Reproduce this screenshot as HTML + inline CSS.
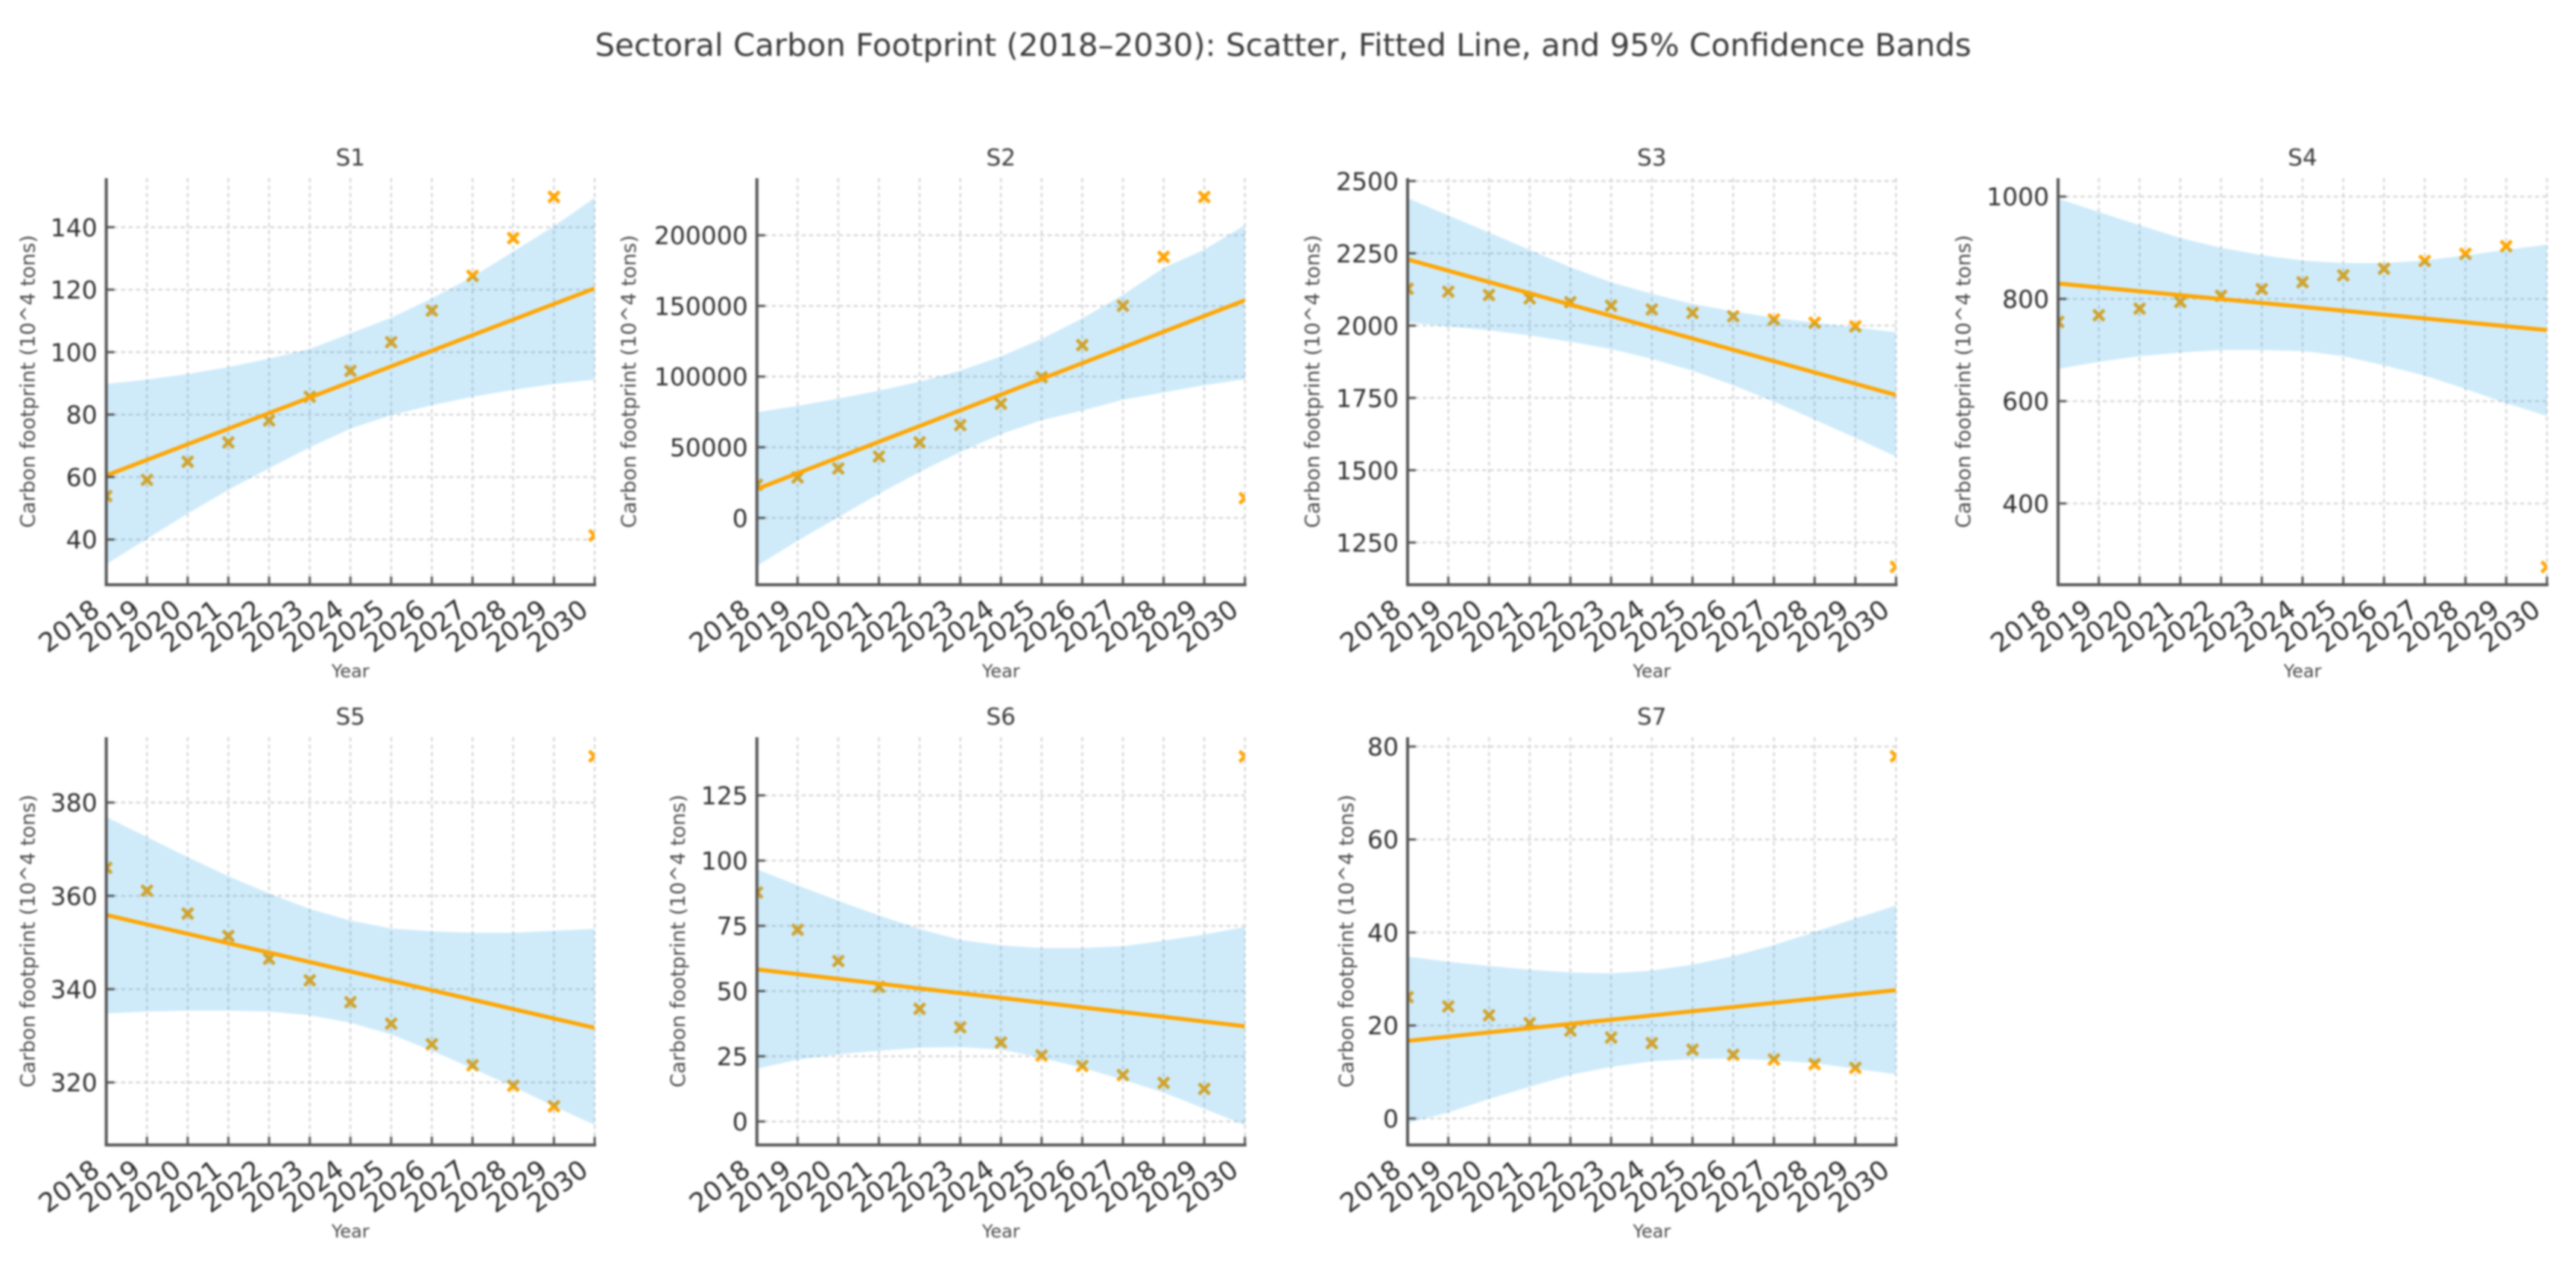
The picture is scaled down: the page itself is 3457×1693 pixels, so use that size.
<!DOCTYPE html>
<html lang="en">
<head>
<meta charset="utf-8">
<title>Sectoral Carbon Footprint (2018–2030)</title>
<style>
  html, body { margin: 0; padding: 0; background: #ffffff; }
  #chart-figure { display: block; width: 3457px; height: 1693px; filter: blur(1.3px); }
  text { font-family: "DejaVu Sans", "Liberation Sans", sans-serif; }
</style>
</head>
<body>
<svg id="chart-figure" xmlns="http://www.w3.org/2000/svg" width="3457" height="1693" viewBox="0 0 3457 1693">
  <rect x="0" y="0" width="3457" height="1693" fill="#ffffff"></rect>
  <text x="1722" y="75" font-size="42" fill="#3a3a3a" text-anchor="middle" textLength="1847" lengthAdjust="spacingAndGlyphs">Sectoral Carbon Footprint (2018–2030): Scatter, Fitted Line, and 95% Confidence Bands</text>
</svg>
<script>
const years = [2018, 2019, 2020, 2021, 2022, 2023, 2024, 2025, 2026, 2027, 2028, 2029, 2030];
const fitYears = [2018, 2030];

const s1Points = [53.9, 59.1, 64.9, 71.1, 78.1, 85.7, 94, 103.2, 113.3, 124.4, 136.5, 149.7, 41.3];
const s1Fit = [60.5, 120.4];
const s1Upper = [89.8, 91.2, 93, 95.2, 97.9, 101, 106, 111, 117.2, 124.1, 132.2, 140.3, 149.4];
const s1Lower = [32.1, 40.2, 48.3, 55.9, 62.8, 69.5, 75.5, 79.8, 83, 85.7, 87.9, 89.8, 91.2];
const s1Ticks = [40, 60, 80, 100, 120, 140];
const s1Limits = [25.5, 155.7];

const s2Points = [23500, 28650, 35000, 43500, 53500, 65700, 80800, 99500, 122300, 150100, 184700, 227100, 14000];
const s2Fit = [20500, 154000];
const s2Upper = [74700, 79300, 84400, 90000, 96400, 104100, 114300, 126600, 141200, 157800, 177000, 189800, 207200];
const s2Lower = [-34000, -16100, 500, 17100, 32500, 46600, 59300, 69100, 76000, 83600, 88800, 93900, 98200];
const s2Ticks = [0, 50000, 100000, 150000, 200000];
const s2Limits = [-47300, 240400];

const s3Points = [2127.5, 2117.5, 2106, 2094, 2081, 2069, 2056, 2044, 2032.5, 2021, 2010, 1997.5, 1166];
const s3Fit = [2229, 1760];
const s3Upper = [2441, 2381, 2322, 2262, 2202, 2150, 2110, 2075, 2050, 2027, 2010, 1994, 1977];
const s3Lower = [2012, 1997, 1984, 1966, 1944, 1919, 1885, 1844, 1794, 1737, 1675, 1612, 1547];
const s3Ticks = [1250, 1500, 1750, 2000, 2250, 2500];
const s3Limits = [1103.75, 2510];

const s4Points = [755, 768, 781, 794, 806, 819, 832.5, 846, 859, 874, 888, 903, 276];
const s4Fit = [830, 739];
const s4Upper = [996, 970, 944, 919, 900, 885.5, 875, 870, 870, 875, 885, 896, 906];
const s4Lower = [663, 677, 688, 695, 700, 700, 698, 688, 670, 650, 624, 596, 571];
const s4Ticks = [400, 600, 800, 1000];
const s4Limits = [241, 1036];

const s5Points = [366, 361.1, 356.2, 351.4, 346.5, 341.9, 337.2, 332.6, 328.2, 323.7, 319.3, 314.9, 389.9];
const s5Fit = [355.9, 331.7];
const s5Upper = [376.9, 372.6, 368.3, 364.2, 360.5, 357.2, 354.7, 353, 352.4, 352.1, 352.1, 352.5, 352.9];
const s5Lower = [334.8, 335.2, 335.4, 335.4, 335.2, 334.4, 332.8, 330.3, 326.8, 323, 319.1, 314.9, 310.9];
const s5Ticks = [320, 340, 360, 380];
const s5Limits = [306.6, 394];

const s6Points = [87.8, 73.5, 61.5, 51.6, 43.2, 36.1, 30.3, 25.3, 21.3, 17.8, 14.8, 12.5, 139.9];
const s6Fit = [58.3, 36.5];
const s6Upper = [96.7, 90.5, 84.6, 79, 73.8, 69.6, 67.5, 66.5, 66.5, 67.2, 69.3, 71.7, 74.5];
const s6Lower = [20.2, 23.7, 25.8, 27.1, 28.3, 28.5, 27.6, 24.4, 20.6, 16, 11.1, 4.9, -1.4];
const s6Ticks = [0, 25, 50, 75, 100, 125];
const s6Limits = [-9, 147.3];

const s7Points = [26.1, 24.1, 22.2, 20.5, 18.9, 17.4, 16.2, 14.8, 13.7, 12.7, 11.7, 10.9, 77.9];
const s7Fit = [16.7, 27.6];
const s7Upper = [34.8, 33.7, 32.8, 32, 31.4, 31.2, 31.8, 33.1, 34.9, 37.3, 40.1, 43, 45.8];
const s7Lower = [-1, 1.3, 4.2, 6.8, 9.4, 11.1, 12.3, 12.8, 12.9, 12.5, 11.9, 10.7, 9.5];
const s7Ticks = [0, 20, 40, 60, 80];
const s7Limits = [-5.7, 82];

const sectors = [
  { id: 's1', title: 'S1', pts: s1Points, fit: s1Fit, up: s1Upper, lo: s1Lower, ticks: s1Ticks, lim: s1Limits, box: [142.6, 798, 239, 784.5], labelGap: 96 },
  { id: 's2', title: 'S2', pts: s2Points, fit: s2Fit, up: s2Upper, lo: s2Lower, ticks: s2Ticks, lim: s2Limits, box: [1015.8, 1670.7, 239, 784.5], labelGap: 163 },
  { id: 's3', title: 'S3', pts: s3Points, fit: s3Fit, up: s3Upper, lo: s3Lower, ticks: s3Ticks, lim: s3Limits, box: [1889, 2544.5, 239, 784.5], labelGap: 118.5 },
  { id: 's4', title: 'S4', pts: s4Points, fit: s4Fit, up: s4Upper, lo: s4Lower, ticks: s4Ticks, lim: s4Limits, box: [2762, 3418, 239, 784.5], labelGap: 118 },
  { id: 's5', title: 'S5', pts: s5Points, fit: s5Fit, up: s5Upper, lo: s5Lower, ticks: s5Ticks, lim: s5Limits, box: [142.6, 798, 989, 1536], labelGap: 96 },
  { id: 's6', title: 'S6', pts: s6Points, fit: s6Fit, up: s6Upper, lo: s6Lower, ticks: s6Ticks, lim: s6Limits, box: [1015.8, 1670.7, 989, 1536], labelGap: 96.6 },
  { id: 's7', title: 'S7', pts: s7Points, fit: s7Fit, up: s7Upper, lo: s7Lower, ticks: s7Ticks, lim: s7Limits, box: [1889, 2544.5, 989, 1536], labelGap: 73 }
];

const NS = 'http://www.w3.org/2000/svg';
const root = document.getElementById('chart-figure');

function make(parent, tag, attrs, content) {
  const node = document.createElementNS(NS, tag);
  for (const key in attrs) node.setAttribute(key, attrs[key]);
  if (content !== undefined) node.textContent = content;
  parent.appendChild(node);
  return node;
}

sectors.forEach(function (s) {
  const left = s.box[0], right = s.box[1], top = s.box[2], bottom = s.box[3];
  const xScale = function (year) { return left + (year - years[0]) / (years[years.length - 1] - years[0]) * (right - left); };
  const yScale = function (value) { return bottom - (value - s.lim[0]) / (s.lim[1] - s.lim[0]) * (bottom - top); };

  const panel = make(root, 'g', {});
  
  

  const clip = make(panel, 'clipPath', { id: 'clip-' + s.id });
  make(clip, 'rect', { x: left, y: top, width: right - left, height: bottom - top });

  const gridGroup = make(panel, 'g', { stroke: '#b4b4b4', 'stroke-width': 2.4, 'stroke-dasharray': '5.5 4.5', opacity: 0.55 });
  
  
  years.forEach(function (year) {
    const gridLine = make(gridGroup, 'line', { x1: xScale(year), x2: xScale(year), y1: top, y2: bottom });
    
    
  });
  s.ticks.forEach(function (tick) {
    const gridLine = make(gridGroup, 'line', { x1: left, x2: right, y1: yScale(tick), y2: yScale(tick) });
    
    
  });

  const plotGroup = make(panel, 'g', { 'clip-path': 'url(#clip-' + s.id + ')' });
  
  

  s.pts.forEach(function (value, i) {
    const cx = xScale(years[i]), cy = yScale(value), r = 7.2;
    const marker = make(plotGroup, 'path', {
      d: 'M' + (cx - r) + ' ' + (cy - r) + 'L' + (cx + r) + ' ' + (cy + r) + 'M' + (cx - r) + ' ' + (cy + r) + 'L' + (cx + r) + ' ' + (cy - r),
      stroke: '#ffa500', 'stroke-width': 4.8, fill: 'none'
    });
    
    
  });

  const upperPath = s.up.map(function (value, i) { return xScale(years[i]) + ',' + yScale(value); });
  const lowerPath = s.lo.map(function (value, i) { return xScale(years[i]) + ',' + yScale(value); }).reverse();
  const band = make(plotGroup, 'polygon', { points: upperPath.concat(lowerPath).join(' '), fill: 'rgb(15,155,230)', 'fill-opacity': 0.2 });
  
  

  const fitLine = make(plotGroup, 'polyline', {
    points: s.fit.map(function (value, i) { return xScale(fitYears[i]) + ',' + yScale(value); }).join(' '),
    fill: 'none', stroke: '#ffa500', 'stroke-width': 5.4
  });
  
  

  const yAxis = make(panel, 'g', {});
  
  
  const ySpine = make(yAxis, 'line', { x1: left, x2: left, y1: top, y2: bottom + 2, stroke: '#555555', 'stroke-width': 4 });
  
  
  s.ticks.forEach(function (tick) {
    const mark = make(yAxis, 'line', { x1: left, x2: left + 11, y1: yScale(tick), y2: yScale(tick), stroke: '#555555', 'stroke-width': 3 });
    
    
    const label = make(yAxis, 'text', { x: left - 12, y: yScale(tick) + 12, 'font-size': 33, fill: '#2e2e2e', 'text-anchor': 'end' }, String(tick));
    
    
  });

  const xAxis = make(panel, 'g', {});
  
  
  const xSpine = make(xAxis, 'line', { x1: left - 2, x2: right + 2, y1: bottom, y2: bottom, stroke: '#555555', 'stroke-width': 4 });
  
  
  years.forEach(function (year) {
    const px = xScale(year);
    const mark = make(xAxis, 'line', { x1: px, x2: px, y1: bottom, y2: bottom - 11, stroke: '#555555', 'stroke-width': 3 });
    
    
    const ax = px - 6.5, ay = bottom + 38;
    const label = make(xAxis, 'text', { x: ax, y: ay, 'font-size': 35.5, fill: '#2e2e2e', 'text-anchor': 'end', transform: 'rotate(-37 ' + ax + ' ' + ay + ')' }, String(year));
    
    
  });

  const middleX = (left + right) / 2, middleY = (top + bottom) / 2;
  const title = make(panel, 'text', { x: middleX, y: top - 17, 'font-size': 31, fill: '#3a3a3a', 'text-anchor': 'middle' }, s.title);
  
  

  const xTitle = make(panel, 'text', { x: middleX, y: bottom + 124, 'font-size': 24, fill: '#4a4a4a', 'text-anchor': 'middle' }, 'Year');
  
  

  const yx = left - s.labelGap;
  const yTitle = make(panel, 'text', { x: yx, y: middleY, 'font-size': 27, fill: '#4a4a4a', 'text-anchor': 'middle', transform: 'rotate(-90 ' + yx + ' ' + middleY + ')' }, 'Carbon footprint (10^4 tons)');
  
  
});
</script>
</body>
</html>
